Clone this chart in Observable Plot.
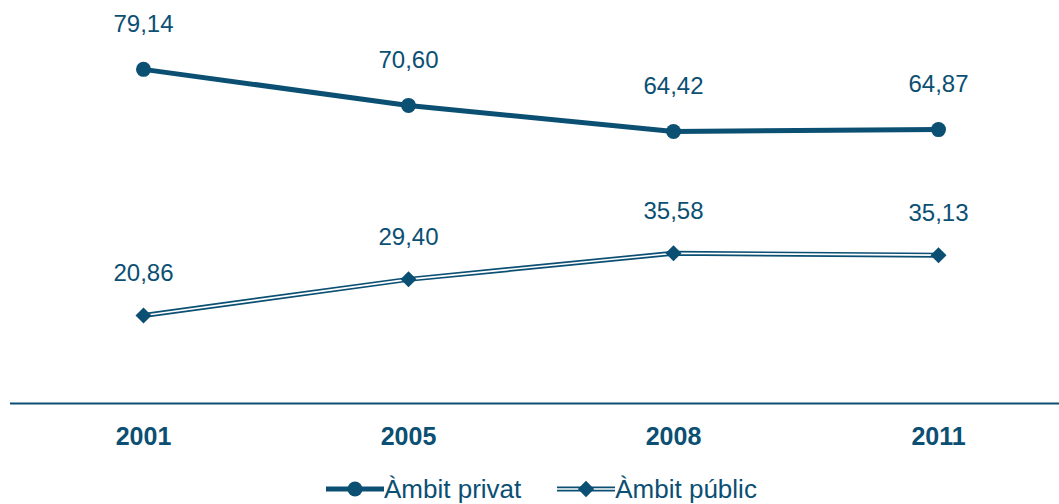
<!DOCTYPE html>
<html>
<head>
<meta charset="utf-8">
<script src="https://cdn.jsdelivr.net/npm/d3@7"></script>
<script src="https://cdn.jsdelivr.net/npm/@observablehq/plot@0.6"></script>
<style>
  html, body { margin: 0; padding: 0; background: #fff; }
  body { width: 1059px; height: 504px; overflow: hidden; font-family: Arial, "Liberation Sans", sans-serif; }
  #legend { display: flex; align-items: center; padding-left: 326px; height: 36px; margin-top: 1px; color: #0b4f73; font-size: 26px; }
  #legend .item { display: flex; align-items: center; }
  #legend svg { display: block; }
</style>
</head>
<body>
<div id="chart"></div>
<div id="legend"></div>
<script>
const years = ["2001", "2005", "2008", "2011"];
const privat = [79.14, 70.60, 64.42, 64.87];
const public_ = [20.86, 29.40, 35.58, 35.13];
const seriesNames = ["Àmbit privat", "Àmbit públic"];

const color = "#0b4f73";
const fmt = v => v.toFixed(2).replace(".", ",");

const dPriv = years.map((y, i) => ({year: y, value: privat[i]}));
const dPub = years.map((y, i) => ({year: y, value: public_[i]}));

const chart = Plot.plot({
  width: 1059,
  height: 470,
  marginLeft: 10,
  marginRight: 0,
  marginTop: 23,
  marginBottom: 67,
  style: {fontFamily: 'Arial, "Liberation Sans", sans-serif', background: "#fff"},
  x: {type: "point", domain: years, range: [143, 938], padding: 0},
  y: {domain: [0, 90], axis: null},
  marks: [
    Plot.ruleY([0], {stroke: color, strokeWidth: 2}),
    Plot.axisX({tickSize: 0, tickPadding: 24, fontSize: 25, fontWeight: "bold", fill: color, label: null}),
    Plot.line(dPriv, {x: "year", y: "value", stroke: color, strokeWidth: 5}),
    Plot.dot(dPriv, {x: "year", y: "value", r: 7.5, fill: color, stroke: null}),
    Plot.line(dPub, {x: "year", y: "value", stroke: color, strokeWidth: 5}),
    Plot.line(dPub, {x: "year", y: "value", stroke: "#fff", strokeWidth: 1.6}),
    Plot.dot(dPub, {x: "year", y: "value", symbol: "diamond2", r: 7.2, fill: color, stroke: null}),
    Plot.text(dPriv, {x: "year", y: "value", text: d => fmt(d.value), dy: -45, fontSize: 24, fill: color}),
    Plot.text(dPub, {x: "year", y: "value", text: d => fmt(d.value), dy: -42, fontSize: 24, fill: color})
  ]
});
document.getElementById("chart").appendChild(chart);

// Legend
const legend = document.getElementById("legend");
function swatch(kind) {
  const s = d3.create("svg").attr("width", 58).attr("height", 30);
  if (kind === 0) {
    s.append("line").attr("x1", 0).attr("x2", 58).attr("y1", 15).attr("y2", 15).attr("stroke", color).attr("stroke-width", 5);
    s.append("circle").attr("cx", 29).attr("cy", 15).attr("r", 7.5).attr("fill", color);
  } else {
    s.append("line").attr("x1", 0).attr("x2", 58).attr("y1", 15).attr("y2", 15).attr("stroke", color).attr("stroke-width", 5);
    s.append("line").attr("x1", 0).attr("x2", 58).attr("y1", 15).attr("y2", 15).attr("stroke", "#fff").attr("stroke-width", 1.6);
    s.append("path").attr("d", d3.symbol(d3.symbolDiamond2, 170)()).attr("transform", "translate(29,15)").attr("fill", color);
  }
  return s.node();
}
seriesNames.forEach((name, i) => {
  const item = document.createElement("div");
  item.className = "item";
  if (i > 0) item.style.marginLeft = "36px";
  item.appendChild(swatch(i));
  const t = document.createElement("span");
  t.textContent = name;
  item.appendChild(t);
  legend.appendChild(item);
});
</script>
</body>
</html>
